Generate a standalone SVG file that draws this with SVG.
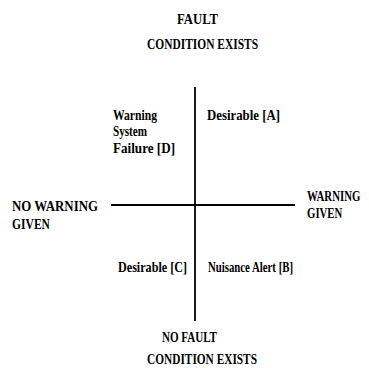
<svg xmlns="http://www.w3.org/2000/svg" width="369" height="368" viewBox="0 0 369 368">
<style>
text{font-family:"Liberation Serif","Times New Roman",serif;font-size:15px;font-weight:bold;fill:#000;}
line{stroke:#000;stroke-width:1.8;}
</style>
<rect width="369" height="368" fill="#fff"/>
<g id="connectors">
<line x1="195" y1="87" x2="195" y2="321"/>
<line x1="111" y1="205" x2="295" y2="205"/>
</g>
<g id="top"><text x="177" y="24" textLength="41" lengthAdjust="spacingAndGlyphs">FAULT</text><text x="147" y="49" textLength="111" lengthAdjust="spacingAndGlyphs">CONDITION EXISTS</text></g>
<g id="qD"><text x="113" y="120" textLength="44" lengthAdjust="spacingAndGlyphs">Warning</text><text x="113" y="136" textLength="34" lengthAdjust="spacingAndGlyphs">System</text><text x="113" y="153" textLength="62" lengthAdjust="spacingAndGlyphs">Failure [D]</text></g>
<g id="qA"><text x="207" y="120" textLength="73" lengthAdjust="spacingAndGlyphs">Desirable [A]</text></g>
<g id="left"><text x="12" y="211" textLength="86" lengthAdjust="spacingAndGlyphs">NO WARNING</text><text x="12" y="229" textLength="38" lengthAdjust="spacingAndGlyphs">GIVEN</text></g>
<g id="right"><text transform="translate(307,201) scale(0.72,1)" x="0" y="0">WARNING</text><text transform="translate(307,218) scale(0.72,1)" x="0" y="0">GIVEN</text></g>
<g id="qC"><text x="118" y="272" textLength="69" lengthAdjust="spacingAndGlyphs">Desirable [C]</text></g>
<g id="qB"><text x="208" y="272" textLength="85" lengthAdjust="spacingAndGlyphs">Nuisance Alert [B]</text></g>
<g id="bottom"><text x="162" y="342" textLength="55" lengthAdjust="spacingAndGlyphs">NO FAULT</text><text x="147" y="364" textLength="110" lengthAdjust="spacingAndGlyphs">CONDITION EXISTS</text></g>
</svg>
